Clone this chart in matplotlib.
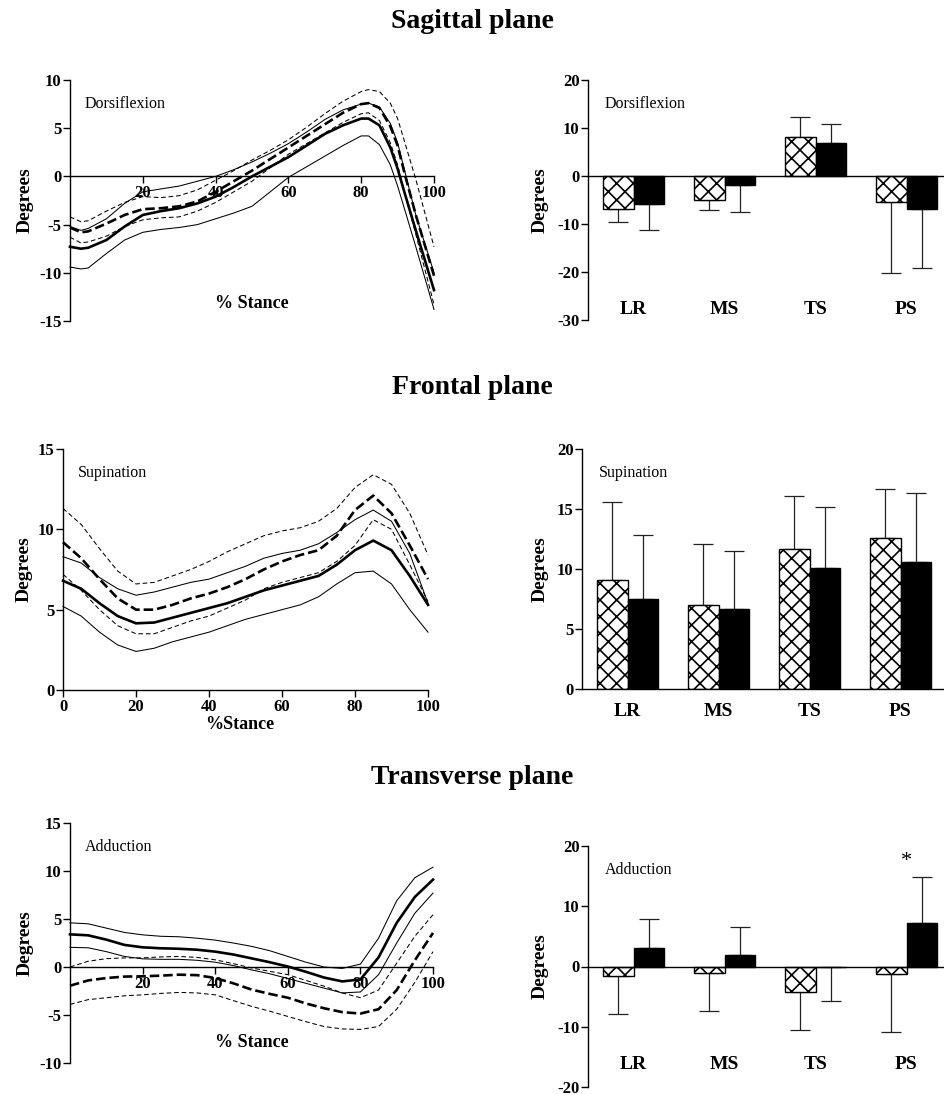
import numpy as np
import matplotlib
matplotlib.use('Agg')
import matplotlib.pyplot as plt

plt.rcParams['font.family'] = ['Liberation Serif', 'DejaVu Serif']
plt.rcParams['axes.unicode_minus'] = False
plt.rcParams['hatch.linewidth'] = 1.2

W, H = 944, 1095

phases = ['LR', 'MS', 'TS', 'PS']

# sagittal plane, % stance curves (A = solid, B = dashed)
sag_x = [0, 3, 5, 10, 15, 20, 25, 30, 35, 40, 45, 50, 55, 60, 65, 70, 75, 80, 82, 85, 88, 90, 92, 95, 100]
sag_a_mean = [-7.3, -7.5, -7.4, -6.6, -5.2, -4.0, -3.6, -3.3, -2.8, -2.1, -1.1, 0.0, 1.0, 2.0, 3.2,
              4.4, 5.3, 6.0, 6.0, 5.3, 3.0, 0.8, -1.8, -5.6, -11.8]
sag_a_hi = [-5.2, -5.6, -5.4, -4.4, -2.8, -1.6, -1.3, -1.0, -0.5, 0.0, 0.7, 1.5, 2.4, 3.4, 4.6,
            5.9, 6.9, 7.5, 7.6, 7.2, 5.5, 3.5, 0.5, -4.0, -10.0]
sag_a_lo = [-9.4, -9.6, -9.5, -8.0, -6.6, -5.8, -5.5, -5.3, -5.0, -4.4, -3.8, -3.1, -1.6, -0.1, 1.0,
            2.1, 3.2, 4.2, 4.2, 3.3, 1.2, -1.0, -3.5, -7.3, -13.8]
sag_b_mean = [-5.3, -5.8, -5.7, -4.9, -4.0, -3.4, -3.3, -3.1, -2.6, -1.6, -0.5, 0.6, 1.8, 3.0, 4.2,
              5.4, 6.6, 7.5, 7.6, 7.1, 5.2, 3.2, 0.2, -4.0, -10.3]
sag_b_hi = [-4.2, -4.7, -4.6, -3.6, -2.7, -2.1, -2.2, -2.0, -1.4, -0.4, 0.6, 1.7, 2.7, 3.8, 5.1,
            6.5, 7.8, 8.8, 9.0, 8.8, 7.6, 6.0, 3.5, -0.3, -7.3]
sag_b_lo = [-6.3, -6.9, -6.8, -6.2, -5.2, -4.5, -4.3, -4.2, -3.6, -2.7, -1.6, -0.5, 0.9, 2.3, 3.4,
            4.5, 5.6, 6.5, 6.6, 5.8, 3.5, 1.2, -1.8, -6.0, -13.3]

# frontal plane
fro_x = [0, 5, 10, 15, 20, 25, 30, 35, 40, 45, 50, 55, 60, 65, 70, 75, 80, 85, 90, 95, 100]
fro_a_mean = [6.8, 6.3, 5.4, 4.6, 4.15, 4.2, 4.5, 4.8, 5.1, 5.4, 5.8, 6.2, 6.5, 6.8, 7.1, 7.8, 8.7,
              9.3, 8.7, 7.1, 5.3]
fro_a_hi = [8.3, 7.9, 7.0, 6.3, 5.9, 6.1, 6.4, 6.7, 6.9, 7.3, 7.7, 8.2, 8.5, 8.7, 9.1, 9.8, 10.6,
            11.2, 10.5, 8.5, 5.4]
fro_a_lo = [5.2, 4.6, 3.6, 2.8, 2.4, 2.6, 3.0, 3.3, 3.6, 4.0, 4.4, 4.7, 5.0, 5.3, 5.8, 6.6, 7.3,
            7.4, 6.6, 5.0, 3.6]
fro_b_mean = [9.2, 8.2, 6.9, 5.7, 5.0, 5.0, 5.3, 5.7, 6.0, 6.4, 6.9, 7.5, 8.0, 8.4, 8.7, 9.6, 11.2,
              12.1, 11.0, 9.0, 6.9]
fro_b_hi = [11.3, 10.3, 8.8, 7.4, 6.6, 6.7, 7.1, 7.5, 8.0, 8.6, 9.1, 9.6, 9.9, 10.1, 10.5, 11.3,
            12.6, 13.4, 12.8, 11.0, 8.4]
fro_b_lo = [7.2, 6.2, 5.0, 4.0, 3.5, 3.5, 3.9, 4.3, 4.6, 5.1, 5.6, 6.3, 6.7, 7.0, 7.3, 8.0, 9.0,
            10.6, 10.0, 7.8, 5.5]

# transverse plane
tra_x = [0, 5, 10, 15, 20, 25, 30, 35, 40, 45, 50, 55, 60, 65, 70, 75, 80, 85, 90, 95, 100]
tra_a_mean = [3.4, 3.3, 2.85, 2.3, 2.05, 1.95, 1.9, 1.8, 1.6, 1.3, 0.9, 0.5, 0.05, -0.5, -1.1, -1.5,
              -1.3, 1.0, 4.6, 7.3, 9.1]
tra_a_hi = [4.6, 4.5, 4.05, 3.6, 3.35, 3.2, 3.15, 3.0, 2.8, 2.5, 2.15, 1.7, 1.1, 0.5, 0.0, -0.15,
            0.3, 3.0, 6.9, 9.3, 10.4]
tra_a_lo = [2.05, 2.0, 1.6, 1.1, 0.85, 0.8, 0.8, 0.7, 0.5, 0.15, -0.3, -0.7, -1.2, -1.7, -2.2, -2.7,
            -2.6, -0.8, 2.5, 5.6, 7.7]
tra_b_mean = [-1.95, -1.4, -1.15, -1.0, -0.97, -0.9, -0.8, -0.85, -1.15, -1.7, -2.35, -2.8, -3.2,
              -3.8, -4.3, -4.7, -4.85, -4.4, -2.4, 0.7, 3.55]
tra_b_hi = [0.0, 0.6, 0.87, 0.95, 0.95, 1.05, 1.1, 1.0, 0.75, 0.35, -0.1, -0.45, -0.8, -1.4, -2.0,
            -2.7, -3.2, -2.4, 0.4, 3.2, 5.45]
tra_b_lo = [-3.9, -3.4, -3.2, -3.0, -2.9, -2.75, -2.65, -2.7, -2.9, -3.5, -4.1, -4.6, -5.15, -5.7,
            -6.2, -6.45, -6.5, -6.2, -4.4, -1.6, 1.6]

# phase bars: hatched group and black group, mean and SD
sag_hatch_mean = [-6.9, -4.9, 8.1, -5.5]
sag_hatch_sd = [2.6, 2.2, 4.2, 14.7]
sag_black_mean = [-5.8, -1.8, 6.9, -6.8]
sag_black_sd = [5.45, 5.7, 3.9, 12.3]

fro_hatch_mean = [9.1, 7.0, 11.7, 12.6]
fro_hatch_sd = [6.5, 5.1, 4.4, 4.1]
fro_black_mean = [7.5, 6.7, 10.1, 10.6]
fro_black_sd = [5.3, 4.8, 5.1, 5.7]

tra_hatch_mean = [-1.5, -1.1, -4.15, -1.3]
tra_hatch_sd = [6.4, 6.25, 6.35, 9.5]
tra_black_mean = [3.15, 1.95, -0.05, 7.3]
tra_black_sd = [4.75, 4.65, 5.65, 7.5]


def add_axes(fig, left, top, right, bottom):
    return fig.add_axes([left / W, 1 - bottom / H, (right - left) / W, (bottom - top) / H])


def style_axes(ax, ylim, yticks):
    for s in ['top', 'right']:
        ax.spines[s].set_visible(False)
    ax.spines['bottom'].set_position(('data', 0))
    ax.spines['left'].set_linewidth(1.0)
    ax.spines['bottom'].set_linewidth(1.0)
    ax.set_ylim(*ylim)
    ax.set_yticks(yticks)
    ax.tick_params(axis='y', direction='out', length=5, width=1, pad=1, labelsize=12)
    for lab in ax.get_yticklabels():
        lab.set_fontweight('bold')
    ax.set_facecolor('none')


def line_panel(ax, x, a_mean, a_hi, a_lo, b_mean, b_hi, b_lo, ylim, yticks, xticks, label):
    style_axes(ax, ylim, yticks)
    ax.set_xlim(0, 100)
    ax.set_xticks(xticks)
    ax.tick_params(axis='x', direction='out', length=5, width=1, pad=1.5, labelsize=12)
    for lab in ax.get_xticklabels():
        lab.set_fontweight('bold')
    thin_dash = (0, (4.5, 2.7))
    thick_dash = (0, (3.6, 1.5))
    ax.plot(x, a_hi, color='black', lw=0.75, clip_on=False)
    ax.plot(x, a_lo, color='black', lw=0.75, clip_on=False)
    ax.plot(x, a_mean, color='black', lw=1.9, clip_on=False)
    ax.plot(x, b_hi, color='black', lw=0.75, ls=thin_dash, clip_on=False)
    ax.plot(x, b_lo, color='black', lw=0.75, ls=thin_dash, clip_on=False)
    ax.plot(x, b_mean, color='black', lw=1.9, ls=thick_dash, clip_on=False)
    ax.set_ylabel('Degrees', fontsize=14, fontweight='bold', labelpad=4)
    ax.text(0.04, 0.90, label, transform=ax.transAxes, fontsize=11.5, va='center')


def bar_panel(ax, hatch_mean, hatch_sd, black_mean, black_sd, ylim, yticks, label, label_y):
    style_axes(ax, ylim, yticks)
    ax.set_xlim(-0.5, 3.5)
    ax.set_xticks([])
    pos = np.arange(len(phases))
    w = 0.333
    ax.bar(pos - w / 2, hatch_mean, w, color='white', edgecolor='black', hatch='xx', lw=1, zorder=2)
    ax.bar(pos + w / 2, black_mean, w, color='black', edgecolor='black', lw=1, zorder=2)
    for xs, m, sd in [(pos - w / 2, hatch_mean, hatch_sd), (pos + w / 2, black_mean, black_sd)]:
        m = np.array(m)
        sd = np.array(sd)
        lower = np.where(m < 0, sd, 0)
        upper = np.where(m < 0, 0, sd)
        ax.errorbar(xs, m, yerr=[lower, upper], fmt='none', ecolor='#222222', elinewidth=0.9,
                    capsize=7, capthick=0.9, zorder=1)
    for p, name in zip(pos, phases):
        ax.text(p, label_y, name, ha='center', va='center', fontsize=14, fontweight='bold',
                clip_on=False)
    ax.set_ylabel('Degrees', fontsize=14, fontweight='bold', labelpad=6)
    ax.text(0.045, 0.90, label, transform=ax.transAxes, fontsize=11.5, va='center')
    return pos


fig = plt.figure(figsize=(W / 100, H / 100), dpi=100)

fig.text(0.5, 1 - 21 / H, 'Sagittal plane', ha='center', va='center', fontsize=20, fontweight='bold')
fig.text(0.5, 1 - 388 / H, 'Frontal plane', ha='center', va='center', fontsize=20, fontweight='bold')
fig.text(0.5, 1 - 777 / H, 'Transverse plane', ha='center', va='center', fontsize=20, fontweight='bold')

ax1 = add_axes(fig, 70, 80, 434, 321)
line_panel(ax1, sag_x, sag_a_mean, sag_a_hi, sag_a_lo, sag_b_mean, sag_b_hi, sag_b_lo,
           (-15, 10), [-15, -10, -5, 0, 5, 10], [20, 40, 60, 80, 100], 'Dorsiflexion')
ax1.text(50, -13.2, '% Stance', ha='center', va='center', fontsize=13, fontweight='bold')

ax2 = add_axes(fig, 588, 80, 952, 320)
bar_panel(ax2, sag_hatch_mean, sag_hatch_sd, sag_black_mean, sag_black_sd,
          (-30, 20), [-30, -20, -10, 0, 10, 20], 'Dorsiflexion', -27.9)

ax3 = add_axes(fig, 63, 449, 428, 690)
line_panel(ax3, fro_x, fro_a_mean, fro_a_hi, fro_a_lo, fro_b_mean, fro_b_hi, fro_b_lo,
           (0, 15), [0, 5, 10, 15], [0, 20, 40, 60, 80, 100], 'Supination')
ax3.text(48.5, -2.15, '%Stance', ha='center', va='center', fontsize=13, fontweight='bold',
         clip_on=False)

ax4 = add_axes(fig, 582, 449, 946, 689)
bar_panel(ax4, fro_hatch_mean, fro_hatch_sd, fro_black_mean, fro_black_sd,
          (0, 20), [0, 5, 10, 15, 20], 'Supination', -1.9)

ax5 = add_axes(fig, 70, 823, 433, 1063)
line_panel(ax5, tra_x, tra_a_mean, tra_a_hi, tra_a_lo, tra_b_mean, tra_b_hi, tra_b_lo,
           (-10, 15), [-10, -5, 0, 5, 10, 15], [20, 40, 60, 80, 100], 'Adduction')
ax5.text(50, -7.9, '% Stance', ha='center', va='center', fontsize=13, fontweight='bold')

ax6 = add_axes(fig, 588, 846, 952, 1087)
pos6 = bar_panel(ax6, tra_hatch_mean, tra_hatch_sd, tra_black_mean, tra_black_sd,
                 (-20, 20), [-20, -10, 0, 10, 20], 'Adduction', -16.2)
ax6.text(pos6[3], 17.4, '*', ha='center', va='center', fontsize=16)

fig.savefig('out.png', dpi=100)
